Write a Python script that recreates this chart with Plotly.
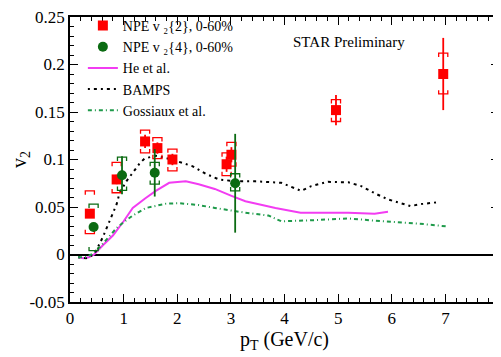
import plotly.graph_objects as go

# ---------------- data ----------------
npe2_x = [0.37, 0.87, 1.40, 1.63, 1.91, 2.92, 3.01, 4.96, 6.96]
npe2_y = [0.043, 0.079, 0.119, 0.112, 0.100, 0.095, 0.105, 0.152, 0.190]
npe2_stat = [0.002, 0.005, 0.007, 0.006, 0.006, 0.008, 0.008, 0.016, 0.038]
npe2_sys_up = [0.024, 0.018, 0.012, 0.011, 0.011, 0.012, 0.013, 0.011, 0.022]
npe2_sys_dn = [0.021, 0.014, 0.012, 0.011, 0.012, 0.012, 0.012, 0.012, 0.021]

npe4_x = [0.44, 0.97, 1.58, 3.08]
npe4_y = [0.029, 0.0835, 0.086, 0.075]
npe4_stat = [0.004, 0.020, 0.025, 0.052]
npe4_sys_up = [0.024, 0.019, 0.011, 0.010]
npe4_sys_dn = [0.025, 0.016, 0.012, 0.008]

he_x = [0.15, 0.25, 0.35, 0.45, 0.6, 0.8, 1.0, 1.17, 1.4, 1.6, 1.85, 2.16, 2.4,
        2.7, 3.0, 3.27, 3.52, 3.83, 4.3, 4.8, 5.19, 5.68, 5.93]
he_y = [-0.003, -0.004, -0.003, 0.0, 0.009, 0.020, 0.035, 0.049, 0.059, 0.067,
        0.0755, 0.077, 0.074, 0.069, 0.062, 0.056, 0.053, 0.049, 0.044, 0.044,
        0.044, 0.043, 0.045]

bamps_x = [0.15, 0.3, 0.38, 0.46, 0.61, 0.70, 0.80, 0.87, 0.92, 1.05, 1.17, 1.3,
           1.39, 1.6, 1.9, 2.28, 2.53, 2.78, 3.09, 3.46, 3.94, 4.13, 4.31, 4.5,
           4.81, 5.19, 5.43, 5.7, 5.93, 6.11, 6.35, 6.54, 6.85]
bamps_y = [-0.003, -0.004, -0.002, 0.001, 0.018, 0.030, 0.043, 0.053, 0.064,
           0.077, 0.086, 0.096, 0.101, 0.104, 0.100, 0.093, 0.085, 0.079, 0.077,
           0.077, 0.0755, 0.071, 0.067, 0.072, 0.0765, 0.076, 0.072, 0.064,
           0.058, 0.055, 0.051, 0.053, 0.055]

goss_x = [0.15, 0.3, 0.4, 0.56, 0.7, 0.87, 1.0, 1.17, 1.42, 1.79, 2.04, 2.4, 2.7,
          3.0, 3.27, 3.7, 3.94, 4.5, 5.19, 5.6, 6.11, 6.6, 7.04]
goss_y = [-0.003, -0.003, 0.0, 0.008, 0.017, 0.028, 0.034, 0.041, 0.049, 0.0535,
          0.054, 0.052, 0.049, 0.046, 0.044, 0.041, 0.035, 0.036, 0.038, 0.036,
          0.034, 0.032, 0.0295]

x_tickvals = [0, 1, 2, 3, 4, 5, 6, 7, 8]
y_tickvals = [-0.05, 0, 0.05, 0.1, 0.15, 0.2, 0.25]
y_ticktext = ["-0.05", "0", "0.05", "0.1", "0.15", "0.2", "0.25"]

FONT = "Liberation Serif, Times New Roman, Times, serif"
RED = "#ff0000"
DKGREEN = "#0b6b12"
MAGENTA = "#f23cf2"
GOSS = "#1e9a4a"

BR_DX = 0.085   # half width of systematic brackets (x units)
BR_DY = 0.004   # length of bracket end ticks (y units)


def brackets(xs, ys, up, dn):
    bx, by = [], []
    for x, y, u, d in zip(xs, ys, up, dn):
        top, bot = y + u, y - d
        bx += [x - BR_DX, x - BR_DX, x + BR_DX, x + BR_DX, None]
        by += [top - BR_DY, top, top, top - BR_DY, None]
        bx += [x - BR_DX, x - BR_DX, x + BR_DX, x + BR_DX, None]
        by += [bot + BR_DY, bot, bot, bot + BR_DY, None]
    return bx, by


fig = go.Figure()

# model curves
fig.add_trace(go.Scatter(x=he_x, y=he_y, mode="lines", name="He et al.",
                         line=dict(color=MAGENTA, width=2)))
fig.add_trace(go.Scatter(x=bamps_x, y=bamps_y, mode="lines", name="BAMPS",
                         line=dict(color="black", width=2, dash="2px,4px,3px,4px")))
fig.add_trace(go.Scatter(x=goss_x, y=goss_y, mode="lines", name="Gossiaux et al.",
                         line=dict(color=GOSS, width=2, dash="4px,3px,1px,3px")))

# systematic brackets
bx, by = brackets(npe2_x, npe2_y, npe2_sys_up, npe2_sys_dn)
fig.add_trace(go.Scatter(x=bx, y=by, mode="lines", showlegend=False,
                         line=dict(color=RED, width=1.3), hoverinfo="skip"))
bx, by = brackets(npe4_x, npe4_y, npe4_sys_up, npe4_sys_dn)
fig.add_trace(go.Scatter(x=bx, y=by, mode="lines", showlegend=False,
                         line=dict(color=DKGREEN, width=1.3), hoverinfo="skip"))

# data points
fig.add_trace(go.Scatter(x=npe2_x, y=npe2_y, mode="markers",
                         name="NPE v \u2082{2}, 0-60%",
                         marker=dict(symbol="square", size=10, color=RED),
                         error_y=dict(type="data", array=npe2_stat, color=RED,
                                      thickness=1.8, width=0)))
fig.add_trace(go.Scatter(x=npe4_x, y=npe4_y, mode="markers",
                         name="NPE v \u2082{4}, 0-60%",
                         marker=dict(symbol="circle", size=10, color=DKGREEN),
                         error_y=dict(type="data", array=npe4_stat, color=DKGREEN,
                                      thickness=1.8, width=0)))

fig.add_annotation(x=5.2, y=0.2235, xref="x", yref="y", text="STAR Preliminary",
                   showarrow=False, font=dict(family=FONT, size=15, color="black"))

axis_common = dict(showline=True, linecolor="black", linewidth=1.5, mirror="ticks",
                   ticks="inside", ticklen=8, tickwidth=1.3, tickcolor="black",
                   showgrid=False, automargin=False, ticklabeloverflow="allow",
                   tickfont=dict(family=FONT, size=17, color="black"))

fig.update_xaxes(range=[0, 8], tickvals=x_tickvals,
                 minor=dict(dtick=0.2, ticks="inside", ticklen=4, tickcolor="black",
                            tickwidth=1),
                 title=dict(text="p<sub>T</sub> (GeV/c)",
                            font=dict(family=FONT, size=20, color="black"), standoff=4),
                 zeroline=False, **axis_common)
fig.update_yaxes(range=[-0.05, 0.25], tickvals=y_tickvals, ticktext=y_ticktext,
                 minor=dict(dtick=0.01, ticks="inside", ticklen=4, tickcolor="black",
                            tickwidth=1),
                 title=dict(text="v<sub>2</sub>",
                            font=dict(family=FONT, size=20, color="black"), standoff=0),
                 zeroline=True, zerolinecolor="black", zerolinewidth=1.5,
                 **axis_common)

# the page body has an 8px margin, so the figure is offset by 8px
fig.update_layout(
    width=493, height=349,
    margin=dict(l=62, r=2, t=7, b=55),
    paper_bgcolor="white", plot_bgcolor="white",
    font=dict(family=FONT, color="black"),
    legend=dict(x=0.03, y=1.025, xanchor="left", yanchor="top",
                bgcolor="rgba(0,0,0,0)", font=dict(family=FONT, size=14),
                traceorder="normal", tracegroupgap=0, itemwidth=30),
    showlegend=True,
)

# legend order: data first, then models
order = {"NPE v \u2082{2}, 0-60%": 1, "NPE v \u2082{4}, 0-60%": 2,
         "He et al.": 3, "BAMPS": 4, "Gossiaux et al.": 5}
for tr in fig.data:
    if tr.name in order:
        tr.legendrank = order[tr.name]

fig.write_html("out.html")
